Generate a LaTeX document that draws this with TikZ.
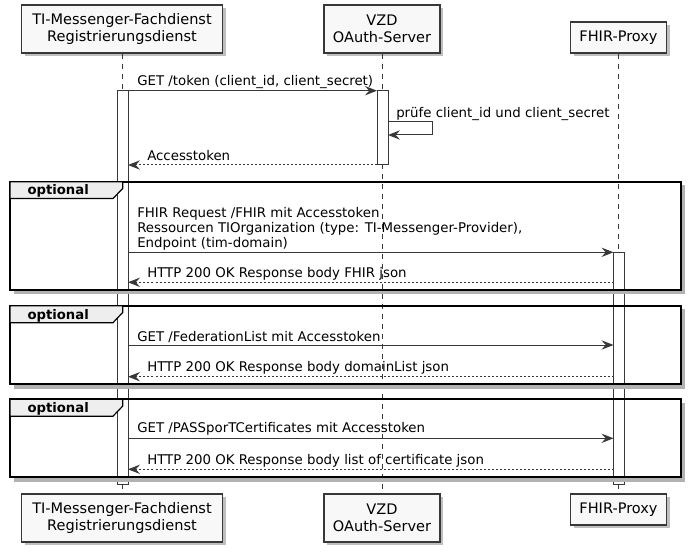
\documentclass[tikz,border=0pt]{standalone}
\usepackage{fontspec}
\setmainfont{DejaVu Sans}
\usetikzlibrary{arrows.meta,shadows}
\definecolor{ln}{HTML}{383838}
\definecolor{pfill}{HTML}{F8F8F8}
\definecolor{tabfill}{HTML}{EEEEEE}
\begin{document}
\begin{tikzpicture}[x=0.75pt,y=-0.75pt,
 part/.style={draw=ln,line width=1pt,fill=pfill,align=center,inner sep=0pt,
   font=\fontsize{10.9}{13}\selectfont,
   drop shadow={shadow xshift=2.5pt,shadow yshift=-2.5pt,fill=black,opacity=0.25}},
 life/.style={draw=ln,line width=0.75pt,dash pattern=on 3.75pt off 3.75pt},
 actbar/.style={draw=ln,line width=0.75pt,fill=white},
 msg/.style={draw=ln,line width=0.75pt,-{Stealth[length=9pt,width=7pt,inset=3.2pt]}},
 ret/.style={msg,dash pattern=on 1.5pt off 1.5pt},
 lbl/.style={font=\fontsize{10}{11.25}\selectfont,anchor=base west,inner sep=0pt},
 frm/.style={draw=black,line width=1.5pt},
 frmshadow/.style={draw=black!30,line width=2.5pt},
 tab/.style={draw=black,line width=0.9pt,fill=tabfill},
 tabtxt/.style={font=\bfseries\fontsize{9.9}{11}\selectfont,anchor=base west,inner sep=0pt}]
\useasboundingbox (0,0) rectangle (693,556);
\fill[white] (0,0) rectangle (693,556);

% participants
\node[part,minimum width=151pt,minimum height=36pt] (p1top) at (122,29) {TI-Messenger-Fachdienst\\Registrierungsdienst};
\node[part,minimum width=87pt,minimum height=36pt] (p2top) at (382,29) {VZD\\OAuth-Server};
\node[part,minimum width=72.3pt,minimum height=23.25pt] (p3top) at (618.5,37.5) {FHIR-Proxy};
\node[part,minimum width=151pt,minimum height=36pt] (p1bot) at (122,518) {TI-Messenger-Fachdienst\\Registrierungsdienst};
\node[part,minimum width=87pt,minimum height=36pt] (p2bot) at (382,518) {VZD\\OAuth-Server};
\node[part,minimum width=72.3pt,minimum height=23.25pt] (p3bot) at (618.5,509.5) {FHIR-Proxy};

% lifelines
\draw[life] (p1top.south) -- (p1bot.north);
\draw[life] (p2top.south) -- (p2bot.north);
\draw[life] (p3top.south) -- (p3bot.north);

% activation bars
\draw[actbar] (117,91) rectangle (128,484);
\draw[actbar] (377,91) rectangle (388,165);
\draw[actbar] (613.5,252.3) rectangle (624.5,484);

% frame shadows
\draw[frmshadow] (683,185) -- (683,292.5) -- (14,292.5);
\draw[frmshadow] (683,309) -- (683,387) -- (14,387);
\draw[frmshadow] (683,403) -- (683,480) -- (14,480);

% frames
\draw[frm] (10,181.7) rectangle (680.7,290);
\draw[tab] (10,181.7) -- (122.7,181.7) -- (122.7,188.5) -- (113,198.5) -- (10,198.5) -- cycle;
\node[tabtxt] (g1) at (27.3,195) {optional};

\draw[frm] (10,305.7) rectangle (680.7,384.3);
\draw[tab] (10,305.7) -- (122.7,305.7) -- (122.7,312.5) -- (113,322.7) -- (10,322.7) -- cycle;
\node[tabtxt] (g2) at (27.3,319) {optional};

\draw[frm] (10,399.3) rectangle (680.7,477.3);
\draw[tab] (10,399.3) -- (122.7,399.3) -- (122.7,406.1) -- (113,416.2) -- (10,416.2) -- cycle;
\node[tabtxt] (g3) at (27.3,412.6) {optional};

% message endpoints
\coordinate (a1) at (122,90.7);  \coordinate (b1) at (377,90.7);
\coordinate (s1) at (388,121.7); \coordinate (s2) at (432,121.7);
\coordinate (s3) at (432,135);   \coordinate (s4) at (388,135);
\coordinate (a2) at (377,165);   \coordinate (b2) at (128,165);
\coordinate (a3) at (128,252.3); \coordinate (b3) at (613.5,252.3);
\coordinate (a4) at (613.5,282.3); \coordinate (b4) at (128,282.3);
\coordinate (a5) at (128,345);   \coordinate (b5) at (613.5,345);
\coordinate (a6) at (613.5,376.7); \coordinate (b6) at (128,376.7);
\coordinate (a7) at (128,438.3); \coordinate (b7) at (613.5,438.3);
\coordinate (a8) at (613.5,469.3); \coordinate (b8) at (128,469.3);

\draw[msg] (a1) -- (b1);
\draw[msg] (s1) -- (s2) -- (s3) -- (s4);
\draw[ret] (a2) -- (b2);
\draw[msg] (a3) -- (b3);
\draw[ret] (a4) -- (b4);
\draw[msg] (a5) -- (b5);
\draw[ret] (a6) -- (b6);
\draw[msg] (a7) -- (b7);
\draw[ret] (a8) -- (b8);

% labels
\node[lbl] (t1) at (137,86) {GET /token (client\_id, client\_secret)};
\node[lbl] (t2) at (396,117.4) {prüfe client\_id und client\_secret};
\node[lbl] (t3) at (147,160.7) {Accesstoken};
\node[lbl] (t4a) at (137,217.3) {FHIR Request /FHIR mit Accesstoken};
\node[lbl] (t4b) at (137,232.3) {Ressourcen TIOrganization (type: TI-Messenger-Provider),};
\node[lbl] (t4c) at (137,247.3) {Endpoint (tim-domain)};
\node[lbl] (t5) at (147,277) {HTTP 200 OK Response body FHIR json};
\node[lbl] (t6) at (137,341.4) {GET /FederationList mit Accesstoken};
\node[lbl] (t7) at (147,371.4) {HTTP 200 OK Response body domainList json};
\node[lbl] (t8) at (137,432.7) {GET /PASSporTCertificates mit Accesstoken};
\node[lbl] (t9) at (147,464) {HTTP 200 OK Response body list of certificate json};
\end{tikzpicture}
\end{document}
